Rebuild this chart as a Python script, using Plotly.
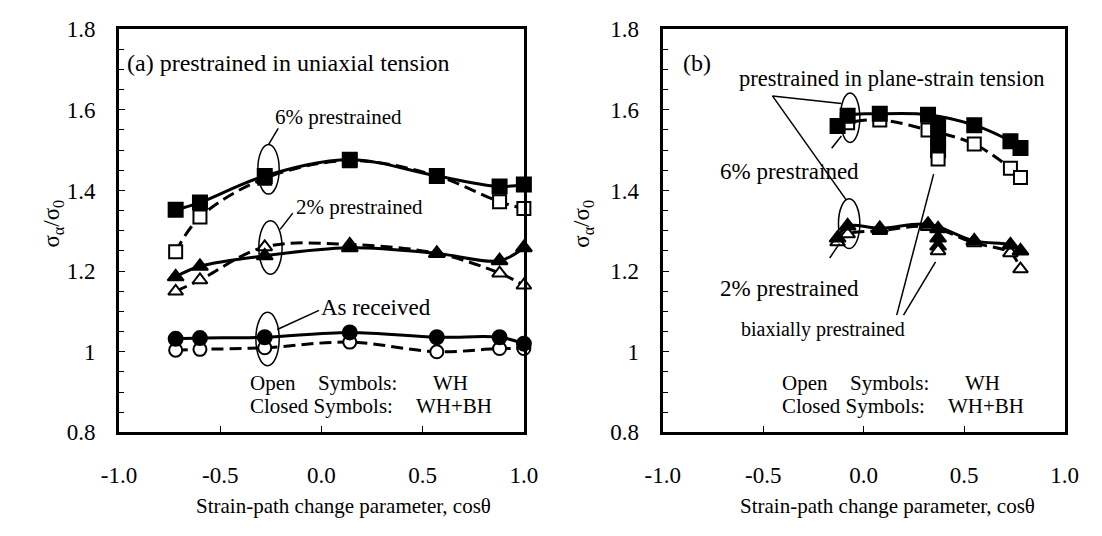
import plotly.graph_objects as go

W, H = 1102, 536
FONT = "'Liberation Serif', 'Times New Roman', 'DejaVu Serif', serif"

# ---------------- data: (a) prestrained in uniaxial tension ----------------
cos_a = [-0.72, -0.60, -0.28, 0.14, 0.57, 0.88, 1.00]
p6_closed = [1.352, 1.370, 1.436, 1.476, 1.436, 1.410, 1.415]
p6_open = [1.248, 1.334, 1.430, 1.474, 1.436, 1.372, 1.355]
p2_closed = [1.186, 1.212, 1.238, 1.258, 1.244, 1.226, 1.258]
p2_open = [1.150, 1.178, 1.260, 1.266, 1.244, 1.195, 1.165]
ar_closed = [1.032, 1.034, 1.036, 1.048, 1.036, 1.036, 1.020]
ar_open = [1.004, 1.006, 1.010, 1.024, 1.000, 1.008, 1.008]

# ---------------- data: (b) plane-strain / biaxial ----------------
cos_b = [-0.13, -0.08, 0.08, 0.32, 0.55, 0.73, 0.78]
ps6_closed = [1.560, 1.585, 1.590, 1.588, 1.562, 1.522, 1.505]
ps6_open = [1.560, 1.568, 1.575, 1.550, 1.515, 1.455, 1.432]
ps2_closed = [1.282, 1.312, 1.306, 1.316, 1.275, 1.265, 1.250]
ps2_open = [1.272, 1.292, 1.300, 1.310, 1.270, 1.245, 1.205]
cos_bi = [0.37, 0.37, 0.37]
bi6_closed = [1.565, 1.530, 1.500]
bi6_open = [1.478]
bi2_closed = [1.305, 1.282, 1.262]
bi2_open = [1.250]

x_ticks = [-1.0, -0.5, 0.0, 0.5, 1.0]
x_ticktext = ["-1.0", "-0.5", "0.0", "0.5", "1.0"]
y_ticks = [0.8, 1.0, 1.2, 1.4, 1.6, 1.8]
y_ticktext = ["0.8", "1", "1.2", "1.4", "1.6", "1.8"]

fig = go.Figure()


def add_series(x, y, sym, filled, dash, xa, ya, line=True):
    if line:
        fig.add_trace(go.Scatter(
            x=x, y=y, mode="lines", xaxis=xa, yaxis=ya, showlegend=False,
            line=dict(color="black", width=3, dash=dash, shape="spline", smoothing=1.0),
            hoverinfo="skip", cliponaxis=False))
    fig.add_trace(go.Scatter(
        x=x[:len(y)], y=y, mode="markers", xaxis=xa, yaxis=ya, showlegend=False,
        cliponaxis=False,
        marker=dict(symbol=sym, size=14 if filled else 13,
                    color="black" if filled else "white",
                    line=dict(color="black", width=2))))


DASH = "12px,6px"

# (a)
add_series(cos_a, p6_open, "square", False, DASH, "x", "y")
add_series(cos_a, p6_closed, "square", True, "solid", "x", "y")
add_series(cos_a, p2_open, "triangle-up", False, DASH, "x", "y")
add_series(cos_a, p2_closed, "triangle-up", True, "solid", "x", "y")
add_series(cos_a, ar_open, "circle", False, DASH, "x", "y")
add_series(cos_a, ar_closed, "circle", True, "solid", "x", "y")

# (b)
add_series(cos_b, ps6_open, "square", False, DASH, "x2", "y2")
add_series(cos_b, ps6_closed, "square", True, "solid", "x2", "y2")
add_series(cos_b, ps2_open, "triangle-up", False, DASH, "x2", "y2")
add_series(cos_b, ps2_closed, "triangle-up", True, "solid", "x2", "y2")
add_series(cos_bi, bi6_closed, "square", True, None, "x2", "y2", line=False)
add_series(cos_bi, bi6_open, "square", False, None, "x2", "y2", line=False)
add_series(cos_bi, bi2_closed, "triangle-up", True, None, "x2", "y2", line=False)
add_series(cos_bi, bi2_open, "triangle-up", False, None, "x2", "y2", line=False)


def px(x):
    return x / W


def py(y):
    return 1 - y / H


def xaxis_cfg(left, right):
    return dict(domain=[px(left), px(right)], range=[-1, 1], tickvals=x_ticks,
                ticktext=x_ticktext, ticks="inside", ticklen=6, tickwidth=1,
                tickcolor="black", showline=True, linewidth=3, linecolor="black",
                mirror=True, showgrid=False, zeroline=False,
                tickfont=dict(family=FONT, size=23, color="black"),
                ticklabelstandoff=20)


def yaxis_cfg(anchor):
    return dict(domain=[py(441), py(18)], range=[0.8, 1.8], tickvals=y_ticks,
                ticktext=y_ticktext, ticks="inside", ticklen=6, tickwidth=1,
                tickcolor="black", showline=True, linewidth=3, linecolor="black",
                mirror=True, showgrid=False, zeroline=False, anchor=anchor,
                minor=dict(ticks="inside", dtick=0.05, tick0=0.8, ticklen=5,
                           tickwidth=1, tickcolor="black"),
                tickfont=dict(family=FONT, size=23, color="black"),
                ticklabelstandoff=16)


shapes = []
annotations = []


def ellipse(cx, cy, rx, ry):
    shapes.append(dict(type="circle", xref="paper", yref="paper",
                       x0=px(cx - rx), x1=px(cx + rx), y0=py(cy + ry), y1=py(cy - ry),
                       line=dict(color="black", width=1.5)))


def seg(x0, y0, x1, y1):
    shapes.append(dict(type="line", xref="paper", yref="paper",
                       x0=px(x0), y0=py(y0), x1=px(x1), y1=py(y1),
                       line=dict(color="black", width=1.5)))


def text(t, x, y, anchor="center", size=21):
    annotations.append(dict(text=t, x=px(x), y=py(y), xref="paper", yref="paper",
                            xanchor=anchor, yanchor="middle", showarrow=False,
                            font=dict(family=FONT, size=size, color="black")))


# ---- (a) decorations ----
text("(a) prestrained in uniaxial tension", 110, 53, "left", 24)
text("6% prestrained", 330, 110)
ellipse(258, 165, 11, 26)
seg(258, 139, 268, 122)
text("2% prestrained", 352, 205)
ellipse(260, 247, 12, 28)
seg(270, 228, 283, 211)
text("As received", 369, 310, "center", 23)
ellipse(257, 343, 12, 28)
seg(267, 333, 310, 313)
text("Open", 237, 389, "left")
text("Symbols:", 307, 389, "left")
text("WH", 425, 389, "left")
text("Closed Symbols:", 237, 413, "left")
text("WH+BH", 408, 413, "left")

# ---- (b) decorations ----
text("(b)", 683, 53, "left", 24)
text("prestrained in plane-strain tension", 740, 70, "left", 22.5)
seg(777, 88, 848, 96)
seg(777, 88, 853, 197)
ellipse(857, 111, 10, 26)
seg(848, 130, 838, 143)
text("6% prestrained", 795, 167, "center", 23)
ellipse(856, 222, 11, 26)
seg(846, 243, 836, 258)
text("2% prestrained", 795, 290, "center", 23)
text("biaxially prestrained", 743, 333, "left", 20)
seg(943, 170, 905, 318)
seg(945, 262, 912, 318)
text("Open", 785, 389, "left")
text("Symbols:", 855, 389, "left")
text("WH", 973, 389, "left")
text("Closed Symbols:", 785, 413, "left")
text("WH+BH", 956, 413, "left")

# axis titles
text("Strain-path change parameter, cos\u03b8", 335, 518, "center", 21)
text("Strain-path change parameter, cos\u03b8", 895, 518, "center", 21)
for xt in (36, 582):
    annotations.append(dict(text="\u03c3<sub>\u03b1</sub>/\u03c3<sub>0</sub>", x=px(xt), y=py(222),
                            xref="paper", yref="paper", xanchor="center", yanchor="middle",
                            showarrow=False, textangle=-90,
                            font=dict(family=FONT, size=23, color="black")))

fig.update_layout(
    width=W, height=H, margin=dict(l=0, r=0, t=0, b=0),
    paper_bgcolor="white", plot_bgcolor="white",
    font=dict(family=FONT, color="black"),
    xaxis=xaxis_cfg(104, 521), yaxis=yaxis_cfg("x"),
    xaxis2=dict(xaxis_cfg(664, 1078), anchor="y2"), yaxis2=yaxis_cfg("x2"),
    shapes=shapes, annotations=annotations, showlegend=False,
)
fig.update_layout(xaxis=dict(anchor="y"))

fig.write_html("out.html", config={"displayModeBar": False},
               post_script="document.body.style.margin='0';document.body.style.overflow='hidden';")
